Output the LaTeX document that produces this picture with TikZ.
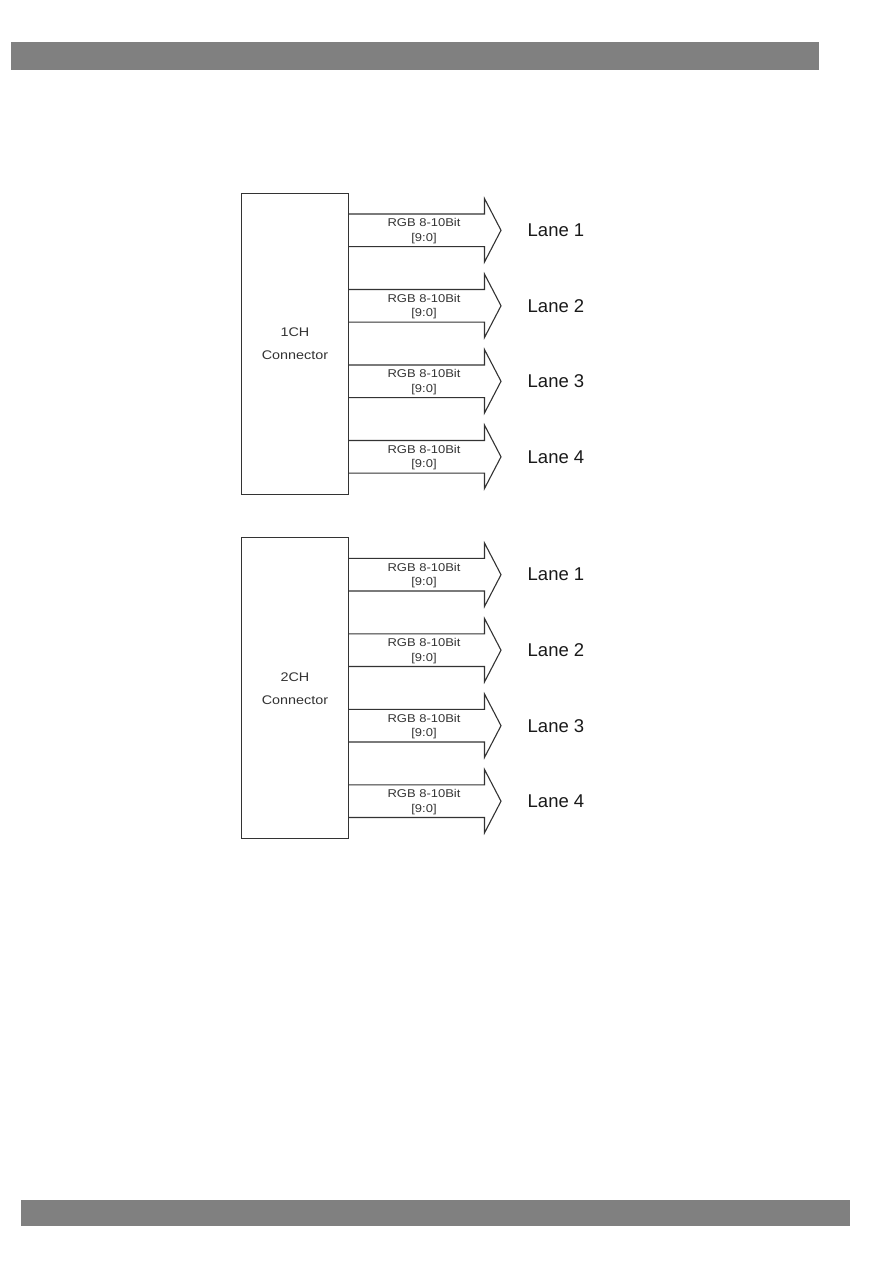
\documentclass[tikz,border=0pt]{standalone}
\usepackage{fontspec}
\setmainfont{Liberation Sans}
\newfontfamily\widesans[FakeStretch=1.15]{Liberation Sans}
\definecolor{bargray}{HTML}{808080}
\definecolor{linegray}{HTML}{333333}
\definecolor{txtgray}{HTML}{333333}
\begin{document}
\begin{tikzpicture}[x=1pt,y=-1pt,
  bar/.style={fill=bargray,draw=none},
  conbox/.style={draw=linegray,line width=1.1pt,fill=white,inner sep=0pt,outer sep=0pt,
    minimum width=107pt,minimum height=301pt,align=center,text=txtgray,
    font=\widesans\fontsize{12.5}{23}\selectfont},
  buslabel/.style={text=txtgray,inner sep=0pt,font=\widesans\fontsize{11.3}{12}\selectfont},
  lanelabel/.style={text=black!90,anchor=west,inner sep=0pt,font=\fontsize{18.5}{20}\selectfont},
  busarrow/.style={draw=linegray,line width=1.1pt,line join=miter},
  pics/lanearrow/.style={code={
    \draw[busarrow] (0,-16.3) -- (136,-16.3) -- (136,-31.7) -- (152.5,0) -- (136,31.7) -- (136,16.3) -- (0,16.3);
    \node[buslabel] (-rgb) at (75.5,-7.5) {RGB 8-10Bit};
    \node[buslabel] (-idx) at (75.5,8) {[9:0]};
    \node[lanelabel] (-lane) at (179,0) {Lane #1};
  }}
]
\useasboundingbox (0,0) rectangle (893,1263);
\fill[bar] (11,42) rectangle (819,70);
\fill[bar] (21,1200) rectangle (850,1226);

% group 1
\node[conbox] (box1) at (295,343.8) {1CH\\Connector};
\foreach \i/\off in {1/37,2/112.5,3/188,4/263.5}{
  \path (box1.north east) ++(0,\off) coordinate (g1l\i);
  \pic (a1\i) at (g1l\i) {lanearrow=\i};
}
% group 2
\node[conbox] (box2) at (295,688.2) {2CH\\Connector};
\foreach \i/\off in {1/37,2/112.5,3/188,4/263.5}{
  \path (box2.north east) ++(0,\off) coordinate (g2l\i);
  \pic (a2\i) at (g2l\i) {lanearrow=\i};
}
\end{tikzpicture}
\end{document}
